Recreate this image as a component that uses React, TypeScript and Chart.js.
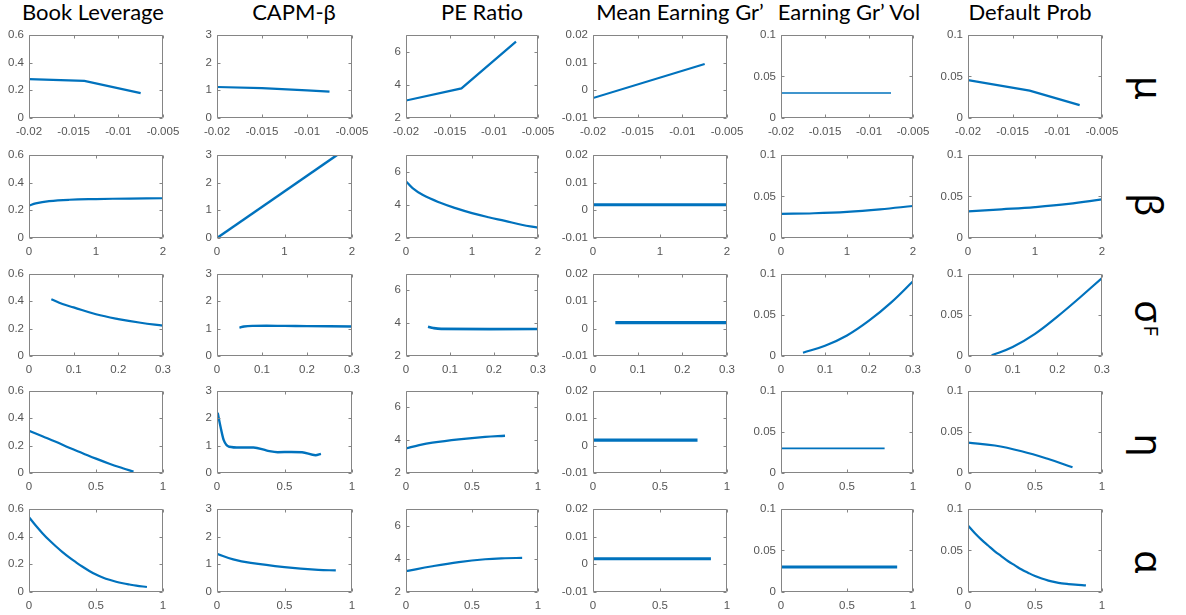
import React, { useEffect, useRef } from 'react';
import { Chart, registerables } from 'chart.js';

Chart.register(...registerables);

// ---------- text ----------
const colTitles = ['Book Leverage', 'CAPM-β', 'PE Ratio', 'Mean Earning Gr’', 'Earning Gr’ Vol', 'Default Prob'];
const rowLabels = ['μ', 'β', 'σ', 'η', 'α'];

// ---------- tick labels ----------
const xTicksMu = [-0.02, -0.015, -0.01, -0.005];
const xTicksBeta = [0, 1, 2];
const xTicksSigma = [0, 0.1, 0.2, 0.3];
const xTicksEta = [0, 0.5, 1];
const xTicksAlpha = [0, 0.5, 1];

const yTicksBookLev = [0, 0.2, 0.4, 0.6];
const yTicksCapm = [0, 1, 2, 3];
const yTicksPE = [2, 4, 6];
const yTicksMeanEG = [-0.01, 0, 0.01, 0.02];
const yTicksEGVol = [0, 0.05, 0.1];
const yTicksDefault = [0, 0.05, 0.1];

// ---------- series (x, y) ----------
// row μ
const muBookLev = [[-0.02, 0.28], [-0.0138, 0.268], [-0.0075, 0.18]];
const muCapm = [[-0.02, 1.12], [-0.015, 1.08], [-0.01, 1.0], [-0.0075, 0.95]];
const muPE = [[-0.02, 3.05], [-0.0137, 3.78], [-0.0075, 6.6]];
const muMeanEG = [[-0.02, -0.0028], [-0.0075, 0.0095]];
const muEGVol = [[-0.02, 0.03], [-0.0075, 0.03]];
const muDefault = [[-0.02, 0.0455], [-0.0131, 0.033], [-0.0075, 0.0155]];
// row β
const betaBookLev = [[0, 0.233], [0.1, 0.25], [0.3, 0.266], [0.6, 0.276], [1, 0.281], [1.5, 0.285], [2, 0.287]];
const betaCapm = [[0, 0], [1.78, 3]];
const betaPE = [[0, 5.42], [0.1, 5.0], [0.25, 4.6], [0.5, 4.15], [0.75, 3.8], [1, 3.5], [1.25, 3.25], [1.5, 3.03], [1.75, 2.8], [2, 2.62]];
const betaMeanEG = [[0, 0.002], [2, 0.002]];
const betaEGVol = [[0, 0.029], [0.5, 0.0298], [1, 0.0315], [1.5, 0.0345], [2, 0.0385]];
const betaDefault = [[0, 0.032], [0.5, 0.0345], [1, 0.0372], [1.5, 0.041], [2, 0.0465]];
// row σF
const sigBookLev = [[0.05, 0.415], [0.075, 0.38], [0.1, 0.355], [0.15, 0.305], [0.2, 0.27], [0.25, 0.243], [0.3, 0.222]];
const sigCapm = [[0.05, 1.03], [0.06, 1.08], [0.08, 1.1], [0.15, 1.1], [0.2, 1.09], [0.3, 1.08]];
const sigPE = [[0.05, 3.78], [0.062, 3.7], [0.08, 3.65], [0.3, 3.64]];
const sigMeanEG = [[0.05, 0.0022], [0.3, 0.0022]];
const sigEGVol = [[0.05, 0.004], [0.1, 0.0125], [0.15, 0.025], [0.2, 0.043], [0.25, 0.065], [0.3, 0.091]];
const sigDefault = [[0.053, 0.0008], [0.1, 0.011], [0.15, 0.027], [0.2, 0.048], [0.25, 0.071], [0.3, 0.095]];
// row η
const etaBookLev = [[0, 0.308], [0.1, 0.268], [0.2, 0.228], [0.3, 0.185], [0.4, 0.145], [0.5, 0.105], [0.6, 0.068], [0.7, 0.035], [0.78, 0.01]];
const etaCapm = [[0.005, 2.2], [0.03, 1.6], [0.05, 1.2], [0.09, 0.96], [0.17, 0.93], [0.27, 0.93], [0.37, 0.82], [0.45, 0.76], [0.55, 0.77], [0.63, 0.76], [0.73, 0.65], [0.77, 0.7]];
const etaPE = [[0, 3.5], [0.1, 3.7], [0.2, 3.85], [0.4, 4.05], [0.6, 4.2], [0.75, 4.27]];
const etaMeanEG = [[0, 0.002], [0.78, 0.002]];
const etaEGVol = [[0, 0.03], [0.785, 0.03]];
const etaDefault = [[0, 0.037], [0.2, 0.0335], [0.4, 0.0265], [0.6, 0.017], [0.78, 0.007]];
// row α
const alpBookLev = [[0, 0.54], [0.05, 0.48], [0.1, 0.425], [0.15, 0.375], [0.2, 0.33], [0.25, 0.288], [0.3, 0.25], [0.35, 0.215], [0.4, 0.182], [0.45, 0.152], [0.5, 0.126], [0.55, 0.105], [0.6, 0.088], [0.65, 0.074], [0.7, 0.063], [0.75, 0.054], [0.8, 0.046], [0.88, 0.036]];
const alpCapm = [[0, 1.38], [0.12, 1.18], [0.25, 1.05], [0.5, 0.9], [0.75, 0.8], [0.88, 0.78]];
const alpPE = [[0, 3.25], [0.2, 3.55], [0.4, 3.8], [0.6, 3.97], [0.75, 4.03], [0.88, 4.05]];
const alpMeanEG = [[0, 0.002], [0.88, 0.002]];
const alpEGVol = [[0, 0.03], [0.88, 0.03]];
const alpDefault = [[0, 0.08], [0.05, 0.071], [0.1, 0.063], [0.15, 0.056], [0.2, 0.049], [0.25, 0.043], [0.3, 0.037], [0.35, 0.032], [0.4, 0.027], [0.45, 0.023], [0.5, 0.0193], [0.55, 0.0162], [0.6, 0.0137], [0.65, 0.0118], [0.7, 0.0104], [0.75, 0.0095], [0.8, 0.0088], [0.88, 0.008]];

// ---------- layout ----------
const colLeft = [29, 217, 406, 593, 781, 968];
const colWidth = [134, 135, 132, 134, 132, 134];
const rowTop = [33, 153, 272, 389, 507];
const rowHeight = [85, 85, 84, 84, 85];
const titleCenter = [93, 294, 482, 680, 849, 1030];
const labelCenterY = [88, 205, 318, 445, 562];

const rowX = [
  { min: -0.02, max: -0.005, ticks: xTicksMu },
  { min: 0, max: 2, ticks: xTicksBeta },
  { min: 0, max: 0.3, ticks: xTicksSigma },
  { min: 0, max: 1, ticks: xTicksEta },
  { min: 0, max: 1, ticks: xTicksAlpha },
];
const colY = [
  { min: 0, max: 0.6, ticks: yTicksBookLev },
  { min: 0, max: 3, ticks: yTicksCapm },
  { min: 2, max: 7, ticks: yTicksPE },
  { min: -0.01, max: 0.02, ticks: yTicksMeanEG },
  { min: 0, max: 0.1, ticks: yTicksEGVol },
  { min: 0, max: 0.1, ticks: yTicksDefault },
];

const grid = [
  [muBookLev, muCapm, muPE, muMeanEG, muEGVol, muDefault],
  [betaBookLev, betaCapm, betaPE, betaMeanEG, betaEGVol, betaDefault],
  [sigBookLev, sigCapm, sigPE, sigMeanEG, sigEGVol, sigDefault],
  [etaBookLev, etaCapm, etaPE, etaMeanEG, etaEGVol, etaDefault],
  [alpBookLev, alpCapm, alpPE, alpMeanEG, alpEGVol, alpDefault],
];

const widths = [
  [2.2, 2.2, 2.2, 2.2, 1.6, 2.2],
  [2.2, 2.4, 2.2, 3.2, 2.2, 2.2],
  [2.2, 2.4, 2.6, 3.2, 2.2, 2.2],
  [2.2, 2.4, 2.4, 3.2, 1.6, 2.2],
  [2.2, 2.2, 2.2, 3.0, 3.0, 2.2],
];

const PAD_L = 45, PAD_T = 10, PAD_R = 28, PAD_B = 26;
const LINE_BLUE = '#0072BD';
const AXIS_GRAY = '#858585';
const TICK_TEXT = '#555555';
const TICK_FONT = "'Liberation Sans', Arial, sans-serif";

function fmt(v: number) {
  return String(parseFloat(Number(v).toFixed(4)));
}

const framePlugin = {
  id: 'matlabFrame',
  afterDraw(chart: any) {
    const { ctx, chartArea: a, scales } = chart;
    ctx.save();
    ctx.strokeStyle = AXIS_GRAY;
    ctx.lineWidth = 1;
    const L = Math.round(a.left) + 0.5;
    const R = Math.round(a.right) - 0.5;
    const T = Math.round(a.top) + 0.5;
    const B = Math.round(a.bottom) - 0.5;
    ctx.beginPath();
    ctx.rect(L, T, R - L, B - T);
    const tl = 3;
    scales.x.ticks.forEach((t: any) => {
      const px = Math.round(scales.x.getPixelForValue(t.value)) + 0.5;
      ctx.moveTo(px, B); ctx.lineTo(px, B - tl);
      ctx.moveTo(px, T); ctx.lineTo(px, T + tl);
    });
    scales.y.ticks.forEach((t: any) => {
      const py = Math.round(scales.y.getPixelForValue(t.value)) + 0.5;
      ctx.moveTo(L, py); ctx.lineTo(L + tl, py);
      ctx.moveTo(R, py); ctx.lineTo(R - tl, py);
    });
    ctx.stroke();
    ctx.restore();
  },
};

function SubPlot({ r, c }: { r: number; c: number }) {
  const ref = useRef<HTMLCanvasElement>(null);
  const w = colWidth[c] + PAD_L + PAD_R;
  const h = rowHeight[r] + PAD_T + PAD_B;
  useEffect(() => {
    const xs = rowX[r];
    const ys = colY[c];
    const pts = grid[r][c];
    const smooth = r !== 0;
    const wiggly = r === 3 && c === 1;
    const chart = new Chart(ref.current as HTMLCanvasElement, {
      type: 'line',
      data: {
        datasets: [
          {
            data: pts.map((p) => ({ x: p[0], y: p[1] })),
            borderColor: LINE_BLUE,
            borderWidth: widths[r][c],
            pointRadius: 0,
            fill: false,
            tension: smooth && !wiggly ? 0.4 : 0,
            cubicInterpolationMode: wiggly ? 'monotone' : 'default',
          } as any,
        ],
      },
      options: {
        responsive: false,
        animation: false,
        events: [],
        layout: { padding: { left: 0, top: PAD_T, right: PAD_R, bottom: 0 } },
        plugins: { legend: { display: false }, tooltip: { enabled: false } },
        scales: {
          x: {
            type: 'linear',
            min: xs.min,
            max: xs.max,
            afterBuildTicks: (s: any) => { s.ticks = xs.ticks.map((v) => ({ value: v })); },
            afterFit: (s: any) => { s.height = PAD_B; },
            grid: { display: false, drawTicks: false },
            border: { display: false },
            ticks: {
              padding: 7,
              color: TICK_TEXT,
              font: { size: 11.5, family: TICK_FONT },
              maxRotation: 0,
              autoSkip: false,
              callback: (v: any) => fmt(v),
            },
          },
          y: {
            type: 'linear',
            min: ys.min,
            max: ys.max,
            afterBuildTicks: (s: any) => { s.ticks = ys.ticks.map((v) => ({ value: v })); },
            afterFit: (s: any) => { s.width = PAD_L; },
            grid: { display: false, drawTicks: false },
            border: { display: false },
            ticks: {
              padding: 5,
              color: TICK_TEXT,
              font: { size: 11.5, family: TICK_FONT },
              autoSkip: false,
              callback: (v: any) => fmt(v),
            },
          },
        },
      } as any,
      plugins: [framePlugin],
    });
    return () => chart.destroy();
  }, [r, c]);
  return (
    <canvas
      ref={ref}
      width={w}
      height={h}
      style={{
        position: 'absolute',
        left: colLeft[c] - PAD_L,
        top: rowTop[r] - PAD_T,
        width: w,
        height: h,
      }}
    />
  );
}

export default function App() {
  const cells: any[] = [];
  for (let r = 0; r < 5; r++) {
    for (let c = 0; c < 6; c++) cells.push(<SubPlot key={`${r}-${c}`} r={r} c={c} />);
  }
  return (
    <div style={{ position: 'absolute', left: 0, top: 0, width: 1186, height: 615, background: '#fff', overflow: 'hidden' }}>
      {colTitles.map((t, i) => (
        <div
          key={t}
          style={{
            position: 'absolute',
            left: titleCenter[i] - 110,
            width: 220,
            top: 0,
            textAlign: 'center',
            fontFamily: 'Lato, sans-serif',
            fontSize: 22,
            lineHeight: '24px',
            color: '#000',
            whiteSpace: 'nowrap',
          }}
        >
          {t}
        </div>
      ))}
      {rowLabels.map((t, i) => (
        <div
          key={t}
          style={{
            position: 'absolute',
            left: 1150 - 40,
            top: labelCenterY[i] - 40,
            width: 80,
            height: 80,
            display: 'flex',
            alignItems: 'center',
            justifyContent: 'center',
            transform: 'rotate(90deg)',
            fontFamily: "'Noto Sans', 'DejaVu Sans', sans-serif",
            fontSize: 38,
            color: '#000',
            whiteSpace: 'nowrap',
          }}
        >
          {t}
          {i === 2 ? <sup style={{ fontSize: 20, position: 'relative', top: -2, marginLeft: 2 }}>F</sup> : null}
        </div>
      ))}
      {cells}
    </div>
  );
}
